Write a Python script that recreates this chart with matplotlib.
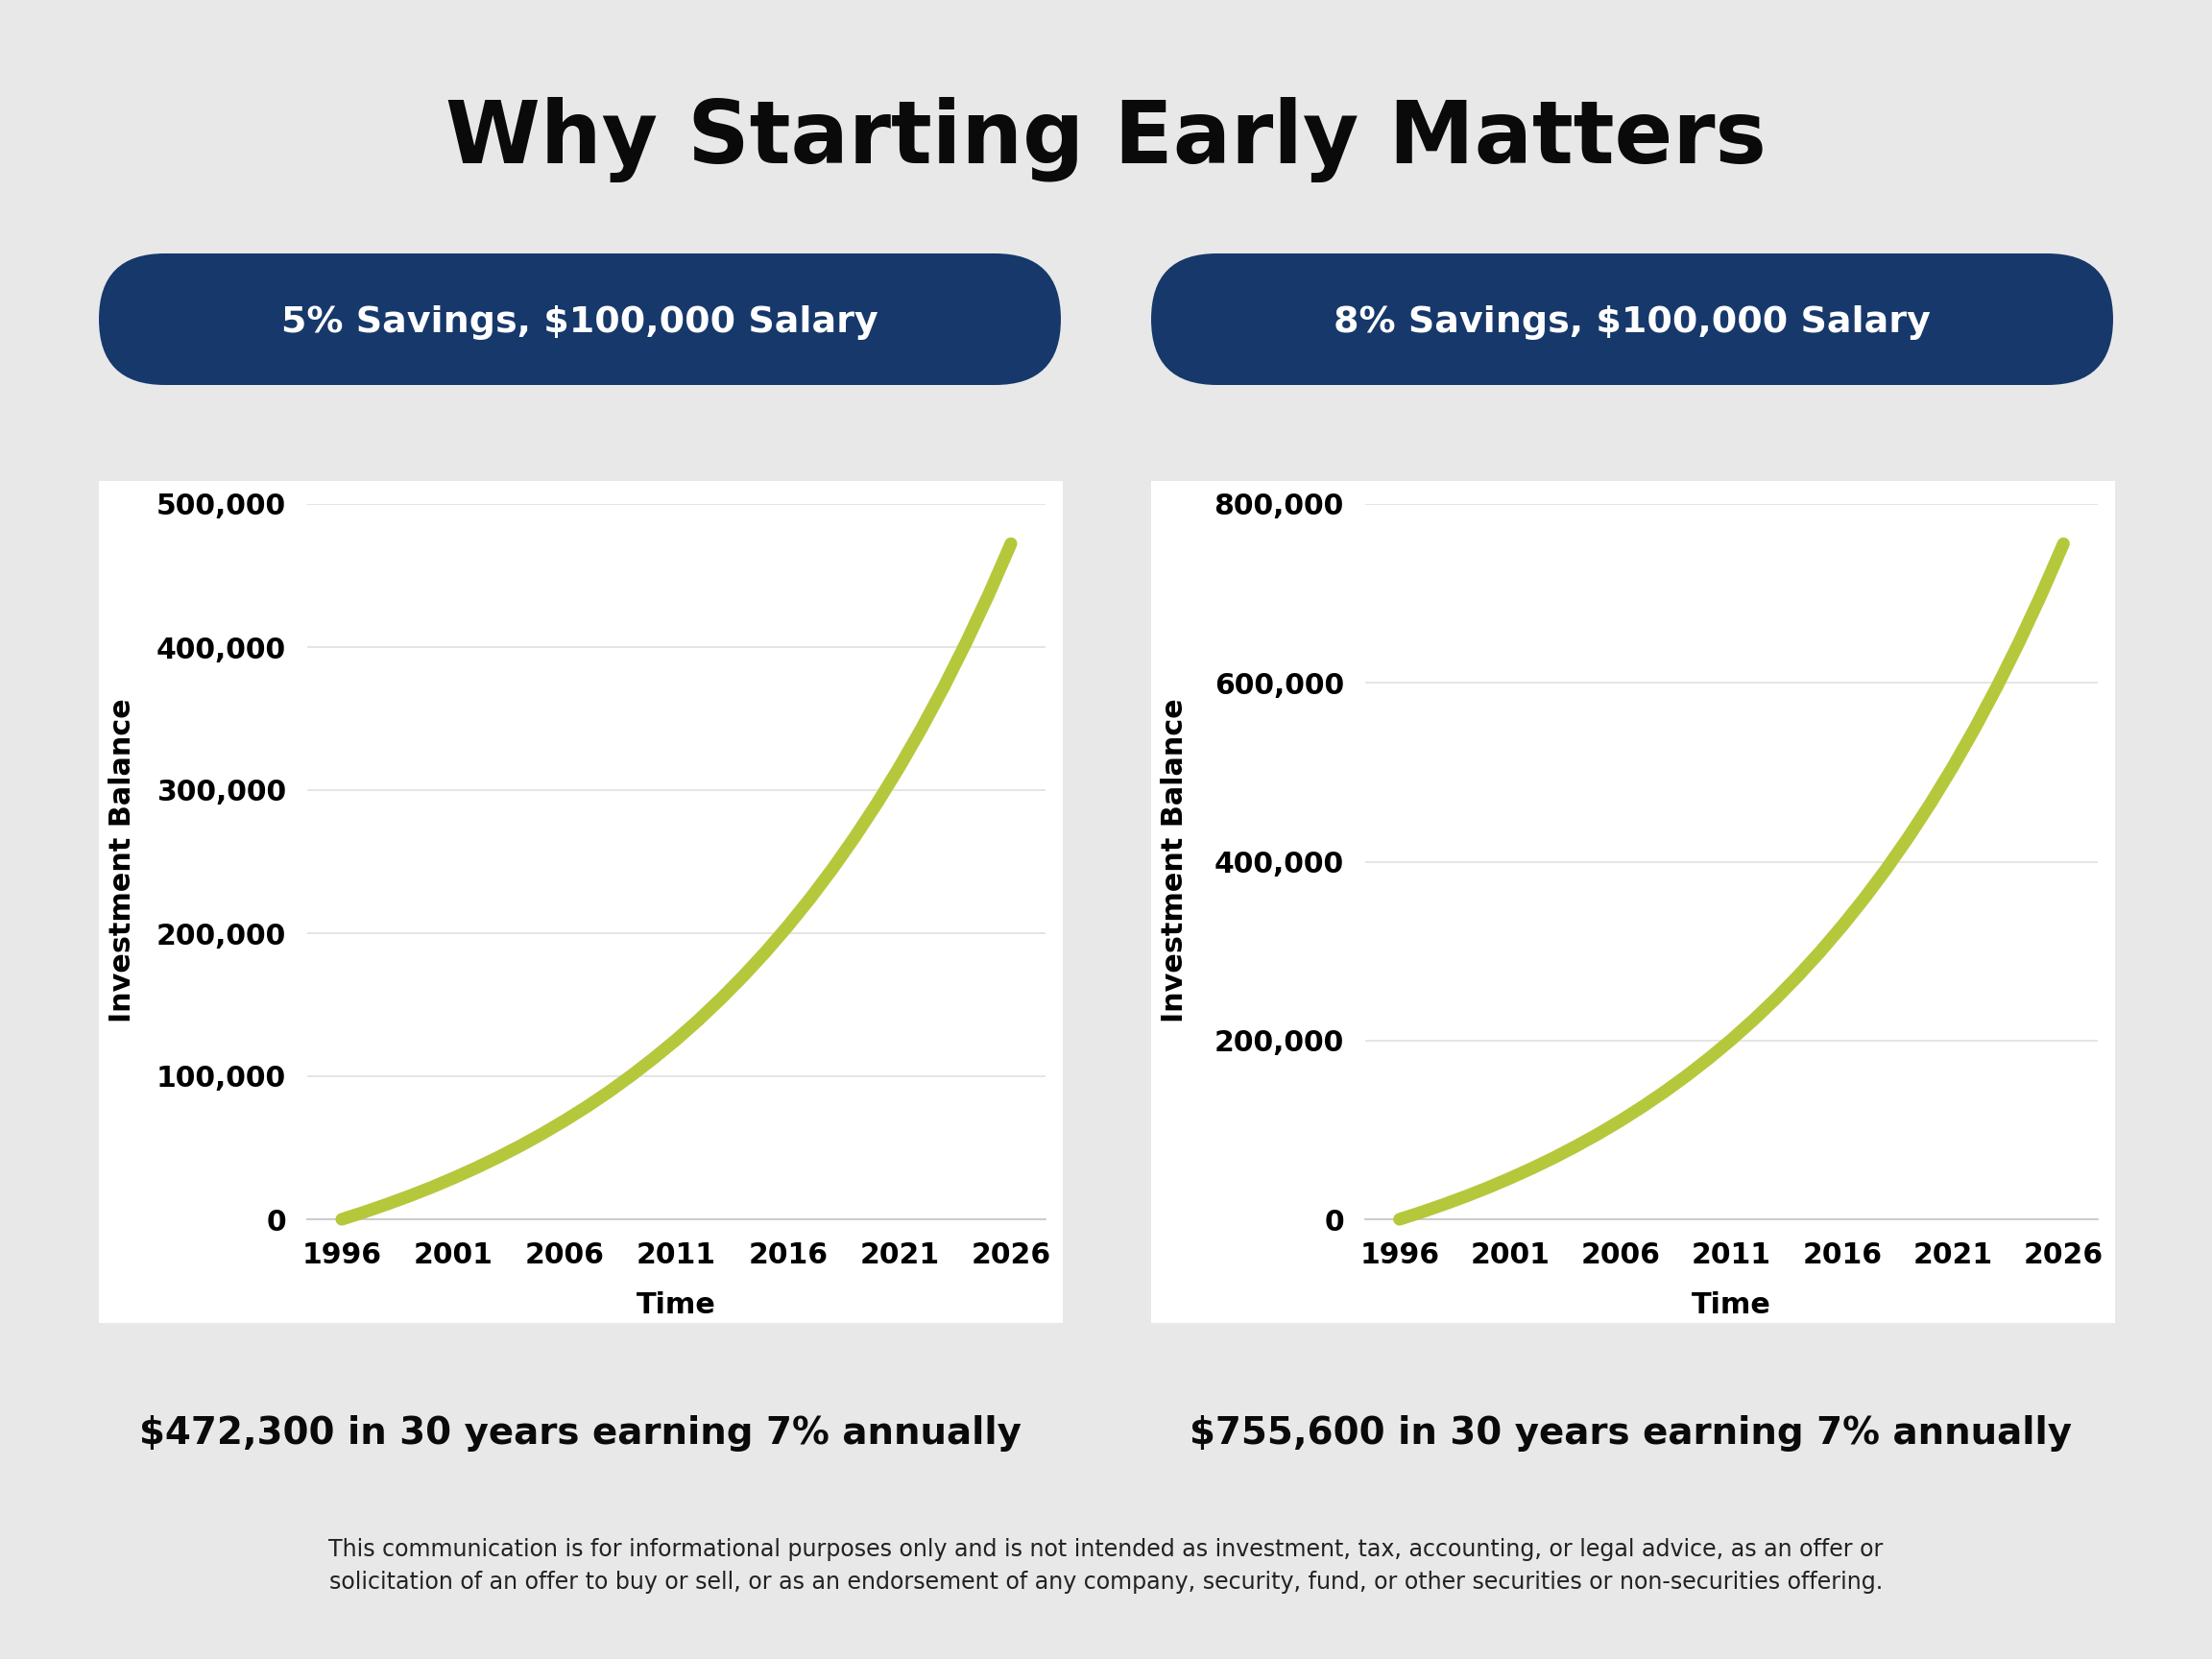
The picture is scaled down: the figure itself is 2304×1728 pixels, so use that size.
import matplotlib.pyplot as plt
from matplotlib.patches import FancyBboxPatch, Rectangle
from matplotlib.ticker import FuncFormatter

# --- data ---
years = list(range(1996, 2027))
balance_5pct = [0, 5000, 10400, 16100, 22200, 28800, 35800, 43300, 51300, 59900,
                69100, 78900, 89400, 100700, 112800, 125600, 139400, 154200, 170000, 186900,
                205000, 224300, 245000, 267200, 290900, 316200, 343400, 372400, 403500, 436700,
                472300]
balance_8pct = [0, 8000, 16600, 25700, 35500, 46000, 57200, 69200, 82100, 95800,
                110500, 126300, 143100, 161100, 180400, 201000, 223100, 246700, 272000, 299000,
                328000, 358900, 392000, 427500, 465400, 506000, 549400, 595900, 645600, 698800,
                755600]
x_ticks = [1996, 2001, 2006, 2011, 2016, 2021, 2026]
y_ticks_5 = [0, 100000, 200000, 300000, 400000, 500000]
y_ticks_8 = [0, 200000, 400000, 600000, 800000]

panel_titles = ["5% Savings, $100,000 Salary", "8% Savings, $100,000 Salary"]
captions = ["$472,300 in 30 years earning 7% annually",
            "$755,600 in 30 years earning 7% annually"]
title = "Why Starting Early Matters"
disclaimer = ("This communication is for informational purposes only and is not intended as investment, tax, accounting, or legal advice, as an offer or\n"
              "solicitation of an offer to buy or sell, or as an endorsement of any company, security, fund, or other securities or non-securities offering.")

BG = "#E8E8E8"
NAVY = "#17386B"
GREEN = "#B5C83C"

plt.rcParams['font.family'] = ['DejaVu Sans']

fig = plt.figure(figsize=(23.04, 17.28), dpi=100)
fig.patch.set_facecolor(BG)
inch = fig.dpi_scale_trans

fig.text(11.52, 15.82, title, transform=inch, ha='center', va='center',
         fontsize=64.5, fontweight='bold', color='#0A0A0A')

panel_x = [1.03, 11.99]
axes_x = [(3.20, 7.69), (14.22, 7.63)]
cap_x = [6.04, 16.99]
data = [(balance_5pct, y_ticks_5), (balance_8pct, y_ticks_8)]

for i in range(2):
    px = panel_x[i]
    # pill header
    pill = FancyBboxPatch((px, 13.27), 10.02, 1.37, boxstyle="round,pad=0,rounding_size=0.685",
                          transform=inch, facecolor=NAVY, edgecolor='none', zorder=0)
    fig.patches.append(pill)
    fig.text(px + 5.01, 13.925, panel_titles[i], transform=inch, ha='center', va='center',
             fontsize=27.4, fontweight='bold', color='white')

    # white chart panel
    fig.patches.append(Rectangle((px, 3.50), 10.04, 8.77, transform=inch,
                                 facecolor='white', edgecolor='none', zorder=0))

    vals, yt = data[i]
    left, width = axes_x[i]
    ax = fig.add_axes([left / 23.04, 4.58 / 17.28, width / 23.04, 7.45 / 17.28])
    ax.set_zorder(2)
    ax.set_facecolor('white')
    ax.plot(years, vals, color=GREEN, linewidth=9.5, solid_capstyle='round',
            solid_joinstyle='round', zorder=3, clip_on=False)
    ax.set_xlim(1994.45, 2027.55)
    ax.set_ylim(0, yt[-1])
    ax.set_xticks(x_ticks)
    ax.set_yticks(yt)
    ax.yaxis.set_major_formatter(FuncFormatter(lambda v, p: f"{int(v):,}"))
    ax.tick_params(length=0, labelsize=21.5, pad=16)
    ax.tick_params(axis='x', pad=16.5)
    for lab in ax.get_xticklabels() + ax.get_yticklabels():
        lab.set_fontweight('bold')
    ax.grid(axis='y', color='#E3E3E3', linewidth=1.3)
    ax.set_axisbelow(True)
    for s in ['top', 'right', 'left']:
        ax.spines[s].set_visible(False)
    ax.spines['bottom'].set_color('#C8C8C8')
    ax.spines['bottom'].set_linewidth(1.3)

    fig.text(px + 0.25, 8.32, "Investment Balance", transform=inch, rotation=90,
             ha='center', va='center', fontsize=21.8, fontweight='bold')
    fig.text(left + width / 2, 3.68, "Time", transform=inch,
             ha='center', va='center', fontsize=21.8, fontweight='bold')

    fig.text(cap_x[i], 2.35, captions[i], transform=inch, ha='center', va='center',
             fontsize=27.9, fontweight='bold', color='#0A0A0A')

fig.text(11.52, 0.97, disclaimer, transform=inch, ha='center', va='center',
         fontsize=17.1, color='#222222', linespacing=1.5)

fig.savefig('out.png', dpi=100, facecolor=BG)
